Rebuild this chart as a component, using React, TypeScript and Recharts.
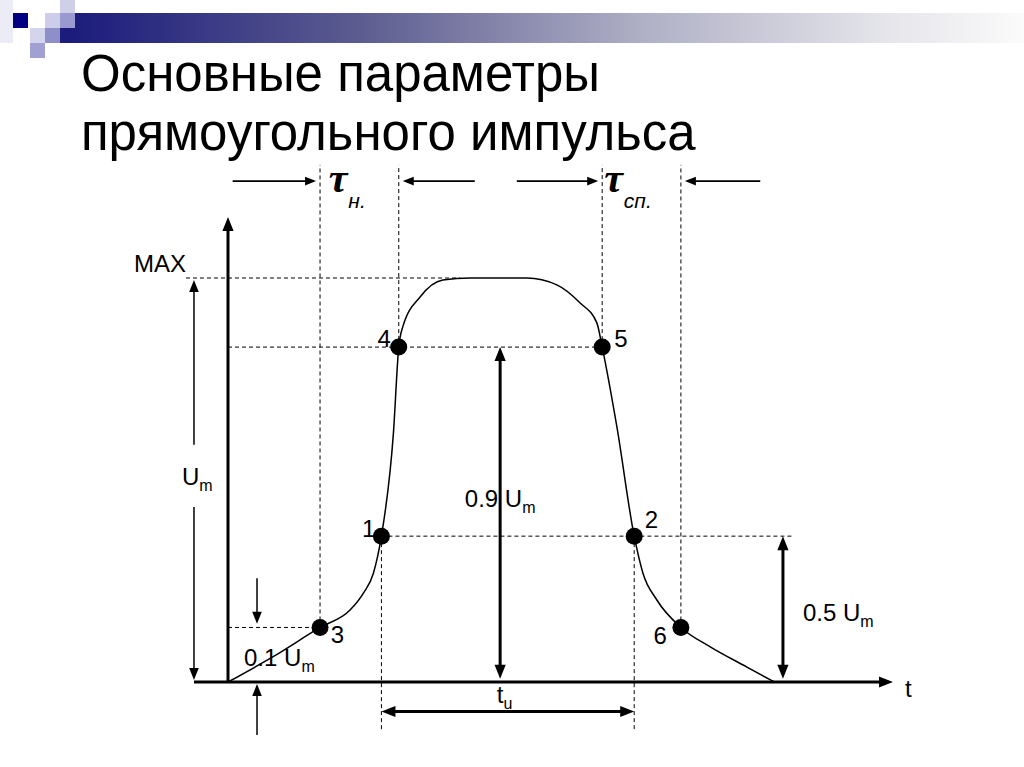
import { ComposedChart, Line, XAxis, YAxis, ReferenceLine, ReferenceDot } from "recharts"

// pulse shape: t in arbitrary time units (t axis 0..100), u in % of MAX
const pulseT = [0, 6.7, 13.8, 18.3, 20.3, 21.8, 23.0, 24.8, 25.6, 26.2, 28.8, 32.2, 36.3, 44.8, 49.3, 52.8, 55.3, 56.1, 58.3, 60.9, 62.2, 64.3, 67.9, 72.3, 77.8, 81.9]
const pulseU = [0, 6.2, 13.5, 17.8, 22.0, 26.9, 36.1, 61.6, 82.9, 87.9, 95.3, 99.5, 100, 100, 98.3, 93.8, 88.9, 82.9, 63.2, 36.1, 27.0, 20.3, 13.5, 8.7, 3.7, 0]

// marked points 1..6 (index into the pulse samples)
const pointNames = ["1", "2", "3", "4", "5", "6"]
const pointIndex = [6, 19, 2, 8, 17, 22]

// levels on the amplitude scale
const levelMax = 100
const level09 = 82.9
const level05 = 36.1
const level01 = 13.5

const titleLines = ["Основные параметры", "прямоугольного импульса"]

const data = pulseT.map((t, i) => ({ t, u: pulseU[i] }))
const pt = (name: string) => {
  const i = pointIndex[pointNames.indexOf(name)]
  return { t: pulseT[i], u: pulseU[i] }
}

const FONT = "'Liberation Sans', Arial, sans-serif"

function arrowShape(w: number, head: number, ends: "end" | "both") {
  return (p: any) => {
    const { x1, y1, x2, y2 } = p
    const dx = x2 - x1
    const dy = y2 - y1
    const len = Math.hypot(dx, dy) || 1
    const ux = dx / len
    const uy = dy / len
    const hw = head * 0.4
    const tri = (tx: number, ty: number, sx: number, sy: number) => {
      const bx = tx - sx * head
      const by = ty - sy * head
      return `${tx},${ty} ${bx - sy * hw},${by + sx * hw} ${bx + sy * hw},${by - sx * hw}`
    }
    let ax = x1
    let ay = y1
    let bx = x2
    let by = y2
    const heads: string[] = [tri(x2, y2, ux, uy)]
    bx -= ux * head * 0.8
    by -= uy * head * 0.8
    if (ends === "both") {
      heads.push(tri(x1, y1, -ux, -uy))
      ax += ux * head * 0.8
      ay += uy * head * 0.8
    }
    return (
      <g>
        <line x1={ax} y1={ay} x2={bx} y2={by} stroke="#000" strokeWidth={w} />
        {heads.map((pts, i) => (
          <polygon key={i} points={pts} fill="#000" />
        ))}
      </g>
    )
  }
}

function textShape(main: string, sub: string, anchor: "start" | "middle", size = 24) {
  return (p: any) => (
    <text x={p.cx} y={p.cy} textAnchor={anchor} fontFamily={FONT} fontSize={size} fill="#000">
      {main}
      {sub && (
        <tspan dy={6} fontSize={16}>
          {sub}
        </tspan>
      )}
    </text>
  )
}

function tauShape(sub: string) {
  return (p: any) => (
    <text x={p.cx} y={p.cy} fill="#000">
      <tspan fontFamily="'Liberation Serif', 'Times New Roman', serif" fontStyle="italic" fontWeight="bold" fontSize={42}>
        τ
      </tspan>
      <tspan dx={1} dy={16} fontFamily={FONT} fontStyle="italic" fontSize={21}>
        {sub}
      </tspan>
    </text>
  )
}

type Seg = [[number, number], [number, number]]
const toSeg = (s: Seg) => [
  { x: s[0][0], y: s[0][1] },
  { x: s[1][0], y: s[1][1] },
]

export default function App() {
  const p1 = pt("1")
  const p2 = pt("2")
  const p3 = pt("3")
  const p4 = pt("4")
  const p5 = pt("5")
  const p6 = pt("6")
  const top = 128

  const dashed: Seg[] = [
    [[p3.t, p3.u], [p3.t, top]],
    [[p4.t, p4.u], [p4.t, top]],
    [[p5.t, p5.u], [p5.t, top]],
    [[p6.t, p6.u], [p6.t, top]],
    [[p1.t, p1.u], [p1.t, -12.3]],
    [[p2.t, p2.u], [p2.t, -12.3]],
    [[-6.3, levelMax], [34.8, levelMax]],
    [[0, level09], [p5.t, level09]],
    [[p1.t, level05], [84.7, level05]],
    [[0, level01], [p3.t, level01]],
  ]

  const arrows: { s: Seg; w: number; h: number; ends: "end" | "both" }[] = [
    { s: [[0, 0], [0, 115.1]], w: 3, h: 14, ends: "end" },
    { s: [[-5.1, 0], [99.7, 0]], w: 3, h: 14, ends: "end" },
    { s: [[-5.1, 58.7], [-5.1, 99.5]], w: 1.5, h: 12, ends: "end" },
    { s: [[-5.1, 43.3], [-5.1, 0.5]], w: 1.5, h: 12, ends: "end" },
    { s: [[40.8, 0.8], [40.8, level09]], w: 3, h: 14, ends: "both" },
    { s: [[83.2, 0.8], [83.2, level05]], w: 3, h: 14, ends: "both" },
    { s: [[p1.t, -7.3], [p2.t, -7.3]], w: 3, h: 14, ends: "both" },
    { s: [[4.35, 25.7], [4.35, 14.4]], w: 1.5, h: 12, ends: "end" },
    { s: [[4.35, -13.1], [4.35, -0.5]], w: 1.5, h: 12, ends: "end" },
    { s: [[0.7, 124], [p3.t - 0.6, 124]], w: 1.8, h: 11, ends: "end" },
    { s: [[37.0, 124], [p4.t + 0.6, 124]], w: 1.8, h: 11, ends: "end" },
    { s: [[43.3, 124], [p5.t - 0.6, 124]], w: 1.8, h: 11, ends: "end" },
    { s: [[79.8, 124], [p6.t + 0.6, 124]], w: 1.8, h: 11, ends: "end" },
  ]

  const labels: { t: number; u: number; main: string; sub: string; anchor: "start" | "middle" }[] = [
    { t: -14.1, u: 101.5, main: "MAX", sub: "", anchor: "start" },
    { t: -6.9, u: 48.8, main: "U", sub: "m", anchor: "start" },
    { t: 35.5, u: 43.3, main: "0.9 U", sub: "m", anchor: "start" },
    { t: 86.2, u: 15.1, main: "0.5 U", sub: "m", anchor: "start" },
    { t: 2.4, u: 4.0, main: "0.1 U", sub: "m", anchor: "start" },
    { t: 40.3, u: -5.2, main: "t", sub: "u", anchor: "start" },
    { t: 102.0, u: -3.7, main: "t", sub: "", anchor: "middle" },
    { t: 21.1, u: 35.9, main: "1", sub: "", anchor: "middle" },
    { t: 63.5, u: 38.1, main: "2", sub: "", anchor: "middle" },
    { t: 16.4, u: 9.7, main: "3", sub: "", anchor: "middle" },
    { t: 23.4, u: 82.9, main: "4", sub: "", anchor: "middle" },
    { t: 58.9, u: 82.9, main: "5", sub: "", anchor: "middle" },
    { t: 64.8, u: 9.4, main: "6", sub: "", anchor: "middle" },
  ]

  const squares = [
    { x: 0, y: 0, w: 13, h: 43, c: "#ececf6" },
    { x: 13, y: 13, w: 15, h: 15, c: "#000080" },
    { x: 60, y: 0, w: 15, h: 13, c: "#cfcfe8" },
    { x: 45, y: 13, w: 15, h: 15, c: "#cdcdea" },
    { x: 60, y: 13, w: 15, h: 15, c: "#9a9ad0" },
    { x: 30, y: 28, w: 15, h: 15, c: "#d4d4ec" },
    { x: 45, y: 28, w: 15, h: 15, c: "#8e8ec8" },
    { x: 30, y: 43, w: 15, h: 15, c: "#a0a0d2" },
    { x: 60, y: 28, w: 15, h: 15, c: "#1c1c7c" },
  ]

  return (
    <div style={{ position: "absolute", left: 0, top: 0, width: 1024, height: 767, background: "#fff" }}>
      <svg width={1024} height={767} style={{ position: "absolute", left: 0, top: 0 }}>
        <defs>
          <linearGradient id="bar" x1="0" y1="0" x2="1" y2="0">
            <stop offset="0%" stopColor="#1c1c7c" />
            <stop offset="30%" stopColor="#5c5c90" />
            <stop offset="60%" stopColor="#b0b0c6" />
            <stop offset="85%" stopColor="#e4e4ea" />
            <stop offset="100%" stopColor="#fbfbfb" />
          </linearGradient>
        </defs>
        <rect x={75} y={13} width={949} height={30} fill="url(#bar)" />
        {squares.map((s, i) => (
          <rect key={i} x={s.x} y={s.y} width={s.w} height={s.h} fill={s.c} />
        ))}
        {titleLines.map((line, i) => (
          <text key={i} x={81} y={91 + i * 59} fontFamily={FONT} fontSize={51} fill="#000">
            {line}
          </text>
        ))}
      </svg>
      <div style={{ position: "absolute", left: 0, top: 0 }}>
        <ComposedChart width={1024} height={767} data={data} margin={{ top: 156.8, right: 62.3, bottom: 4.2, left: 94.6 }}>
          <XAxis dataKey="t" type="number" domain={[-20, 110]} allowDataOverflow hide />
          <YAxis type="number" domain={[-20, 130]} allowDataOverflow hide />
          {dashed.map((s, i) => (
            <ReferenceLine
              key={"d" + i}
              segment={toSeg(s)}
              stroke="#000"
              strokeWidth={1}
              strokeDasharray="4 3"
              ifOverflow="visible"
            />
          ))}
          {arrows.map((a, i) => (
            <ReferenceLine key={"a" + i} segment={toSeg(a.s)} ifOverflow="visible" shape={arrowShape(a.w, a.h, a.ends)} />
          ))}
          <Line dataKey="u" type="monotone" stroke="#000" strokeWidth={1.5} dot={false} isAnimationActive={false} />
          {pointNames.map((n) => {
            const p = pt(n)
            return <ReferenceDot key={"p" + n} x={p.t} y={p.u} r={8.5} fill="#000" stroke="none" ifOverflow="visible" />
          })}
          {labels.map((l, i) => (
            <ReferenceDot key={"l" + i} x={l.t} y={l.u} ifOverflow="visible" shape={textShape(l.main, l.sub, l.anchor)} />
          ))}
          <ReferenceDot x={15.1} y={121.3} ifOverflow="visible" shape={tauShape("н.")} />
          <ReferenceDot x={56.4} y={121.3} ifOverflow="visible" shape={tauShape("сп.")} />
        </ComposedChart>
      </div>
    </div>
  )
}
